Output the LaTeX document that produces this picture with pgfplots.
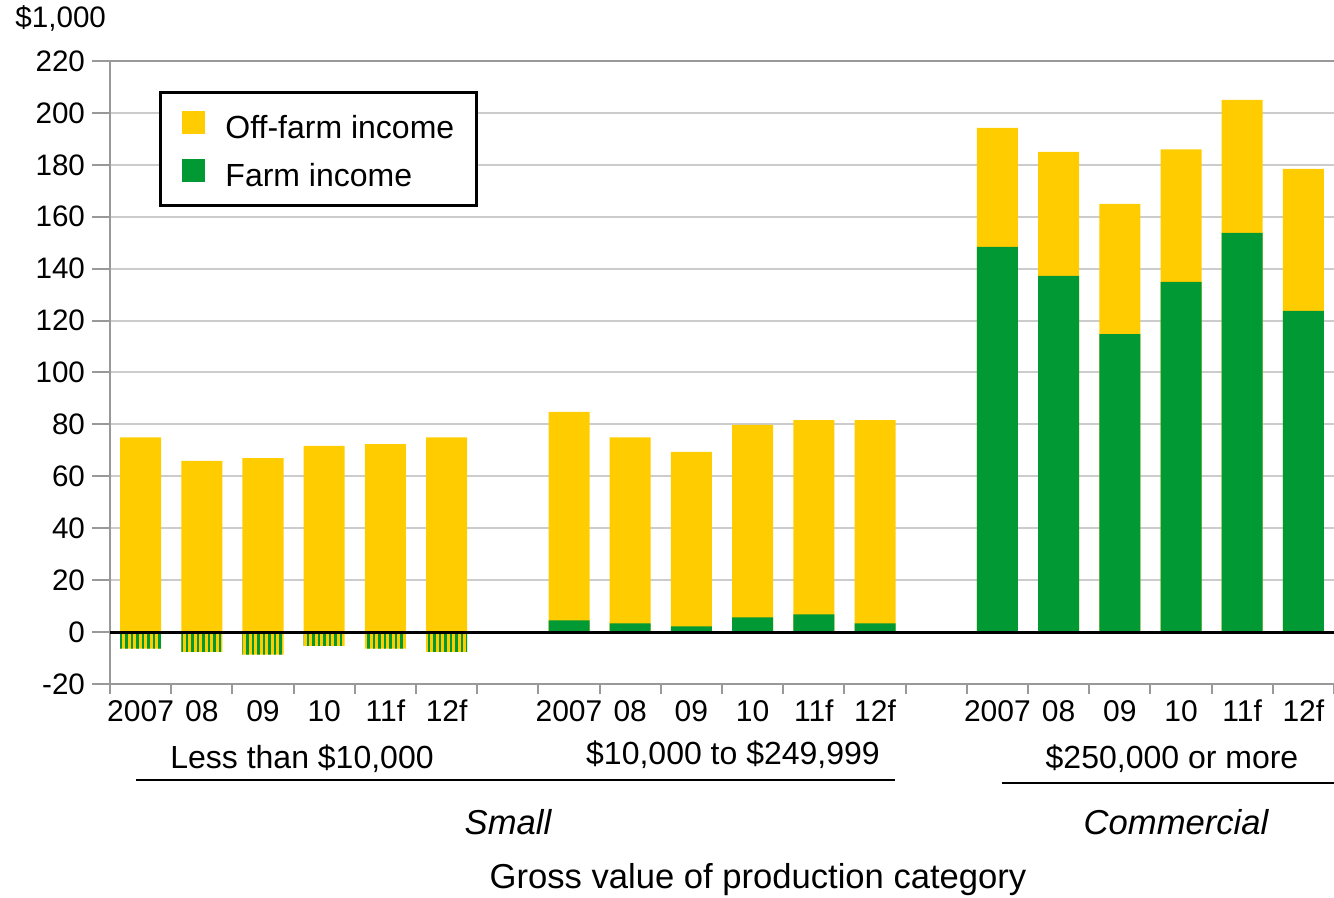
\documentclass[border=0pt]{standalone}
\usepackage{pgfplots}
\pgfplotsset{compat=1.18}
\usepackage{pgfplotstable}
\usepackage{fontspec}
\setmainfont{Liberation Sans}
\usetikzlibrary{patterns.meta}

\definecolor{offfarm}{HTML}{FFCC00}
\definecolor{farmgreen}{HTML}{009933}
\definecolor{axisgray}{HTML}{999999}
\definecolor{gridgray}{HTML}{CCCCCC}

% x: slot on the axis, total: household income, farm: farm income ($1,000)
\pgfplotstableread{
x  total farm
0  75.0  -6.4
1  66.0  -7.6
2  67.0  -8.7
3  71.7  -5.3
4  72.4  -6.4
5  75.0  -7.6
7  84.8   4.5
8  75.0   3.4
9  69.4   2.2
10 79.8   5.7
11 81.7   6.8
12 81.7   3.4
14 194.2 148.4
15 185.0 137.2
16 165.0 114.8
17 186.0 134.9
18 205.0 153.8
19 178.4 123.7
}\incometable

\begin{document}
\begin{tikzpicture}
\useasboundingbox (0pt,0pt) rectangle (667pt,-449pt);
\begin{axis}[
  at={(55pt,-342pt)}, anchor=south west,
  scale only axis, width=612pt, height=311.5pt,
  xmin=-0.5, xmax=19.5, ymin=-20, ymax=220,
  axis x line*=bottom, axis y line*=left,
  axis line style={axisgray, line width=1pt, -},
  ytick={-20,0,20,40,60,80,100,120,140,160,180,200,220},
  ymajorgrids, major grid style={gridgray, line width=1pt},
  tick align=outside, major tick length=9pt,
  ytick style={axisgray, line width=1pt},
  xtick={0,1,2,3,4,5,7,8,9,10,11,12,14,15,16,17,18,19},
  xticklabels={2007,08,09,10,11f,12f,2007,08,09,10,11f,12f,2007,08,09,10,11f,12f},
  xtick style={draw=none},
  extra x ticks={-0.5,0.5,...,19.5},
  extra x tick labels={},
  extra x tick style={major tick length=5pt, grid=none,
    xtick style={draw=axisgray, line width=1pt}},
  yticklabel style={font=\fontsize{14.8}{17}\selectfont},
  xticklabel style={font=\fontsize{15}{17}\selectfont, yshift=4.5pt},
  /pgf/number format/assume math mode=true,
  ybar, bar width=0.67, bar shift=0pt,
  clip=false,
  legend cell align=left,
  legend style={at={(axis description cs:0.04,0.952)}, anchor=north west,
    draw=black, line width=1.5pt, inner xsep=11pt, inner ysep=9.5pt,
    font=\fontsize{16}{18}\selectfont, row sep=10pt,
    /tikz/column sep=10pt,
    nodes={inner sep=0pt, text height=11.5pt, text depth=2pt}},
]
\addplot[fill=offfarm, draw=none,
  legend image code/.code={\fill[offfarm] (0pt,-4.5pt) rectangle (11.5pt,7pt);}]
  table[x=x, y=total] {\incometable};
\addlegendentry{\raisebox{-2pt}{Off-farm income}}
\addplot[fill=farmgreen, draw=none, restrict y to domain=0:300,
  legend image code/.code={\fill[farmgreen] (0pt,-4.5pt) rectangle (11.5pt,7pt);}]
  table[x=x, y=farm] {\incometable};
\addlegendentry{\raisebox{-2pt}{Farm income}}
\addplot[forget plot, fill=offfarm, draw=none, restrict y to domain=-100:0,
  postaction={pattern={Lines[angle=90, distance=2.75pt, line width=1.3pt]}, pattern color=farmgreen}]
  table[x=x, y=farm] {\incometable};
\draw[axisgray, line width=1pt] (axis cs:-0.5,220) -- (axis cs:19.5,220);
\draw[black, line width=1.5pt] (axis cs:-0.5,0) -- (axis cs:19.5,0);
\end{axis}
\begin{scope}[x=0.5pt, y=-0.5pt]
  \node[anchor=west, inner sep=0pt, font=\fontsize{14.8}{17}\selectfont] at (15,18) {\$1,000};
  \begin{scope}[every node/.style={font=\fontsize{16}{18}\selectfont}]
    \node at (302,759) {Less than \$10,000};
    \node at (733,755) {\$10,000 to \$249,999};
    \node at (1172,759) {\$250,000 or more};
    \node[font=\fontsize{17.3}{20}\selectfont\itshape] at (508,822) {Small};
    \node[font=\fontsize{17.3}{20}\selectfont\itshape] at (1176,822) {Commercial};
    \node[font=\fontsize{17.3}{20}\selectfont] at (758,880) {Gross value of production category};
  \end{scope}
  \draw[black, line width=1pt] (136,780) -- (895,780);
  \draw[black, line width=1pt] (1002,783) -- (1334,783);
\end{scope}
\end{tikzpicture}
\end{document}
